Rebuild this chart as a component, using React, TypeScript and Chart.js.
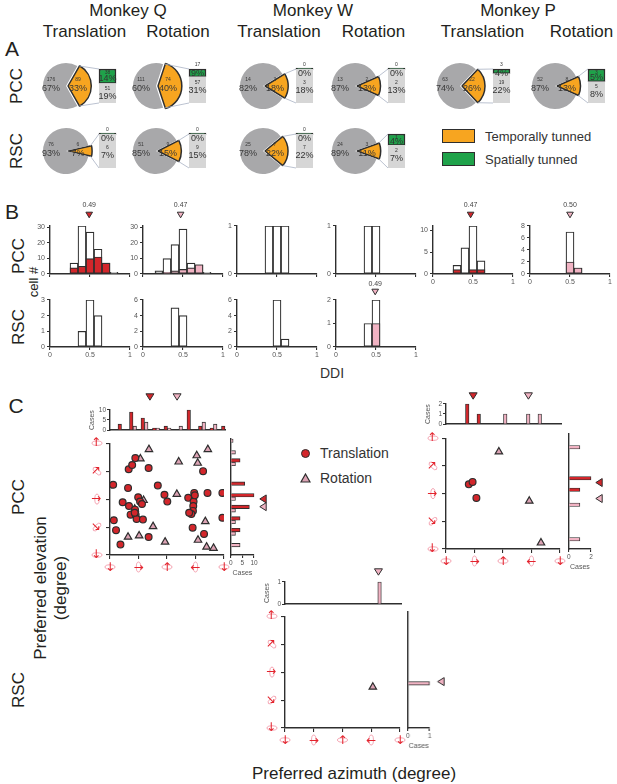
import React, { useEffect, useRef } from 'react';
import { Chart, registerables } from 'chart.js';

Chart.register(...registerables);

const FONT = "'Liberation Sans', Arial, Helvetica, sans-serif";
Chart.defaults.font.family = FONT;
Chart.defaults.color = '#444';

// ---------- colours ----------
const ORANGE = '#f7a520';
const PIE_GREY = '#a8a8aa';
const BAR_GREY = '#d6d6d6';
const GREEN = '#1fa24a';
const DARK = '#2e2e2e';
const RED = '#d3262b';
const PINK = '#f1b3c3';
const TRI_PINK = '#dca3b4';
const ICON_RED = '#e3232c';
const LINK = '#a9b3c4';

// ---------- Panel A data ----------
const monkeys = ['Monkey Q', 'Monkey W', 'Monkey P'];
const motions = ['Translation', 'Rotation'];
const pccUntuned = [176, 111, 14, 13, 63, 52];
const pccTemporal = [89, 74, 3, 2, 22, 8];
const pccSpatial = [38, 17, 0, 0, 3, 3];
const pccUntunedPct = [67, 60, 82, 87, 74, 87];
const pccTemporalPct = [33, 40, 18, 13, 26, 13];
const pccSpatialPct = [14, 9, 0, 0, 4, 5];
const pccTemporalOnlyPct = [19, 31, 18, 13, 22, 8];
const rscUntuned = [76, 51, 25, 24];
const rscTemporal = [6, 9, 7, 3];
const rscSpatial = [0, 0, 0, 1];
const rscUntunedPct = [93, 85, 78, 89];
const rscTemporalPct = [7, 15, 22, 11];
const rscSpatialPct = [0, 0, 0, 4];
const rscTemporalOnlyPct = [7, 15, 22, 7];

// ---------- Panel B data (DDI histograms) ----------
const ddiTicks = [0, 0.5, 1];
const qtPccBins = [0.3, 0.4, 0.5, 0.6, 0.7, 0.8];
const qtPccAll = [7, 31, 27, 16, 7, 1];
const qtPccSpatial = [4, 5, 10, 11, 7, 0];
const qrPccBins = [0.2, 0.3, 0.4, 0.5, 0.6, 0.7, 0.8];
const qrPccAll = [2, 10, 19, 29, 7, 6, 1];
const qrPccSpatial = [0, 1, 2, 3, 4, 6, 0];
const wtPccBins = [0.4, 0.5, 0.6];
const wtPccAll = [1, 1, 1];
const wrPccBins = [0.4, 0.5];
const wrPccAll = [1, 1];
const ptPccBins = [0.3, 0.4, 0.5, 0.6];
const ptPccAll = [2, 6, 11, 3];
const ptPccSpatial = [1, 0, 1, 1];
const prPccBins = [0.5, 0.6];
const prPccAll = [7, 1];
const prPccSpatial = [2, 1];
const qtRscBins = [0.4, 0.5, 0.6];
const qtRscAll = [1, 3, 2];
const qrRscBins = [0.4, 0.5];
const qrRscAll = [5, 4];
const wtRscBins = [0.5, 0.6];
const wtRscAll = [6, 1];
const wrRscBins = [0.4, 0.5];
const wrRscAll = [1, 2];
const wrRscSpatial = [0, 1];
const yTicks30 = [0, 10, 20, 30];
const yTicks1 = [0, 1];
const yTicks10 = [0, 5, 10];
const yTicks8 = [0, 2, 4, 6, 8];
const yTicks3 = [0, 1, 2, 3];
const yTicks6 = [0, 2, 4, 6];
const yTicks2 = [0, 1, 2];

// ---------- Panel C data ----------
const azimuthTicks = [0, 90, 180, 270, 360];
const azimuthIcons = ['↓', '→', '↑', '←', '↓'];
const elevationTicks = [-90, -45, 0, 45, 90];
const elevationIcons = ['↓', '↘', '→', '↗', '↑'];
const azBins = [36, 72, 108, 144, 180, 216, 252, 288, 324, 360];
const elBins = [-72, -54, -36, -18, 0, 18, 36, 54, 72, 90];
// PCC monkey Q
const qTransAz = [10, 12, 19, 33, 40, 57, 60, 59, 70, 80, 65, 79, 81, 84, 89, 95, 101, 104, 122, 122, 151, 172, 181, 247, 266, 264, 263, 262, 257, 250, 261, 297, 294, 308, 355, 355, 268, 78];
const qTransEl = [23, -34, -50, -73, -5, 18, -11, 48, 55, 66, -25, -17, -25, -32, 3, -4, -8, -33, 50, -61, 22, 7, -4, 2, 10, -4, -11, -19, -24, -22, -46, -56, 45, 10, 10, -30, 6, -22];
const qRotAz = [123, 96, 217, 274, 277, 309, 106, 78, 211, 136, 57, 92, 174, 278, 301, 305, 327];
const qRotEl = [80, 65, 60, 70, 58, 80, -2, -16, 8, -44, -61, -59, -69, -66, -36, -77, -79];
const qTransAzHist = [3, 9, 6, 1, 2, 0, 10, 2, 1, 2];
const qRotAzHist = [0, 2, 4, 1, 1, 2, 0, 4, 3, 0];
const qTransElHist = [0, 4, 4, 8, 10, 6, 0, 4, 0, 0];
const qRotElHist = [4, 2, 2, 2, 2, 0, 0, 2, 2, 1];
const qMeanAz = [125, 210];
const qMeanEl = [-3, -15];
// PCC monkey P
const pTransAz = [72, 84, 96];
const pTransEl = [15, 19, -7];
const pRotAz = [167, 263, 300];
const pRotEl = [68, -12, -80];
const pTransAzHist = [0, 2, 1, 0, 0, 0, 0, 0, 0, 0];
const pRotAzHist = [0, 0, 0, 0, 1, 0, 1, 1, 0, 0];
const pTransElHist = [0, 0, 0, 0, 1, 2, 0, 0, 0, 0];
const pRotElHist = [1, 0, 0, 1, 0, 0, 0, 0, 1, 0];
const pMeanAz = [85, 258];
const pMeanEl = [14, -11];
// RSC monkey W
const wTransAz: number[] = [];
const wTransEl: number[] = [];
const wRotAz = [275];
const wRotEl = [-24];
const wTransAzHist = [0, 0, 0, 0, 0, 0, 0, 0, 0, 0];
const wRotAzHist = [0, 0, 0, 0, 0, 0, 0, 1, 0, 0];
const wTransElHist = [0, 0, 0, 0, 0, 0, 0, 0, 0, 0];
const wRotElHist = [0, 0, 0, 1, 0, 0, 0, 0, 0, 0];
const wMeanAz = [null, 290];
const wMeanEl = [null, -18];
const casesTicks10 = [0, 5, 10];
const casesTicks2 = [0, 1, 2];
const casesTicks2b = [0, 2];
const casesTicks1 = [0, 1];

// ---------- generic canvas ----------
type Box = { left: number; top: number; width: number; height: number };
function ChartCanvas({ box, make }: { box: Box; make: () => any }) {
  const ref = useRef<HTMLCanvasElement | null>(null);
  useEffect(() => {
    const chart = new Chart(ref.current as HTMLCanvasElement, make());
    return () => chart.destroy();
  }, []);
  return (
    <canvas
      ref={ref}
      width={box.width}
      height={box.height}
      style={{ position: 'absolute', left: box.left, top: box.top, width: box.width, height: box.height }}
    />
  );
}

const noPlugins = { legend: { display: false }, tooltip: { enabled: false } };
const setTicks = (vals: number[]) => (s: any) => {
  s.ticks = vals.map((v) => ({ value: v }));
};

// ---------- Panel A ----------
const PIE_R = 23;
const PIE_HALF = 28;
const BAR_DX = 33;
const BAR_W = 17;
const BAR_H = 34;
const PIE_OFFSET = 8;
const PIE_CANVAS_W = PIE_HALF + BAR_DX + 2;

function pieConfig(untuned: number, temporal: number, uPct: number, tPct: number) {
  const frac = temporal / (untuned + temporal);
  const decor = {
    id: 'pieDecor',
    afterDraw(chart: any) {
      const ctx = chart.ctx;
      const arc = chart.getDatasetMeta(0).data[0];
      const { x, y, startAngle, endAngle, outerRadius } = arc.getProps(['x', 'y', 'startAngle', 'endAngle', 'outerRadius'], true);
      const mid = (startAngle + endAngle) / 2;
      const ox = x + (Math.cos(mid) * PIE_OFFSET) / 4;
      const oy = y + (Math.sin(mid) * PIE_OFFSET) / 4;
      ctx.save();
      ctx.strokeStyle = LINK;
      ctx.lineWidth = 0.8;
      ctx.beginPath();
      ctx.moveTo(ox + Math.cos(startAngle) * outerRadius, oy + Math.sin(startAngle) * outerRadius);
      ctx.lineTo(x + BAR_DX, y - BAR_H / 2);
      ctx.moveTo(ox + Math.cos(endAngle) * outerRadius, oy + Math.sin(endAngle) * outerRadius);
      ctx.lineTo(x + BAR_DX, y + BAR_H / 2);
      ctx.stroke();
      ctx.textAlign = 'center';
      ctx.textBaseline = 'middle';
      ctx.fillStyle = '#383838';
      ctx.font = `5px ${FONT}`;
      ctx.fillText(String(untuned), x - 15, y - 6);
      ctx.fillText(String(temporal), x + 12, y - 6);
      ctx.font = `9px ${FONT}`;
      ctx.fillText(`${uPct}%`, x - 15, y + 3);
      ctx.fillText(`${tPct}%`, x + 12, y + 3);
      ctx.restore();
    },
  };
  return {
    type: 'pie',
    data: {
      labels: ['Temporally tuned', 'Not tuned'],
      datasets: [
        {
          data: [temporal, untuned],
          backgroundColor: [ORANGE, PIE_GREY],
          borderColor: [DARK, '#ffffff'],
          borderWidth: [1.5, 0],
          offset: [PIE_OFFSET, 0],
        },
      ],
    },
    options: {
      animation: false,
      responsive: false,
      events: [],
      rotation: 90 - frac * 180,
      radius: PIE_R,
      layout: { padding: { left: 0, top: 0, right: PIE_CANVAS_W - 2 * PIE_HALF, bottom: 0 } },
      plugins: noPlugins,
    },
    plugins: [decor],
  };
}

function pieBarConfig(temporal: number, spatial: number, sPct: number, oPct: number) {
  const labels = {
    id: 'barLabels',
    afterDatasetsDraw(chart: any) {
      const ctx = chart.ctx;
      const top = chart.chartArea.top;
      const green = chart.getDatasetMeta(1).data[0];
      if (!green) return;
      const gTop = Math.min(green.y, green.base);
      const gBot = Math.max(green.y, green.base);
      const cx = green.x;
      ctx.save();
      ctx.textAlign = 'center';
      ctx.textBaseline = 'middle';
      ctx.fillStyle = '#333';
      if (spatial > 0 && gBot - gTop >= 10) {
        ctx.font = `5px ${FONT}`;
        ctx.fillText(String(spatial), cx, gTop + 3.5);
        ctx.font = `9px ${FONT}`;
        ctx.fillText(`${sPct}%`, cx, (gTop + gBot) / 2 + 2);
      } else {
        ctx.font = `5px ${FONT}`;
        ctx.fillText(String(spatial), cx, top - 4.5);
        ctx.font = `9px ${FONT}`;
        ctx.fillText(`${sPct}%`, cx, top + 4.5);
      }
      const greyTop = spatial > 0 ? gBot : top;
      const c1 = Math.max(greyTop + 5, top + 14);
      ctx.font = `5px ${FONT}`;
      ctx.fillText(String(temporal - spatial), cx, c1);
      ctx.font = `9px ${FONT}`;
      ctx.fillText(`${oPct}%`, cx, c1 + 8);
      ctx.restore();
    },
  };
  return {
    type: 'bar',
    data: {
      labels: [''],
      datasets: [
        { label: 'Temporal only', data: [temporal - spatial], backgroundColor: BAR_GREY, borderWidth: 0, stack: 's' },
        {
          label: 'Spatially tuned',
          data: [spatial],
          backgroundColor: GREEN,
          borderColor: DARK,
          borderWidth: 1.5,
          borderSkipped: false,
          minBarLength: 2,
          stack: 's',
          clip: false,
        },
      ],
    },
    options: {
      animation: false,
      responsive: false,
      events: [],
      layout: { padding: { left: 2, top: 10, right: 12, bottom: 3 } },
      datasets: { bar: { barPercentage: 1, categoryPercentage: 1 } },
      scales: {
        x: { display: false, stacked: true },
        y: { display: false, stacked: true, min: 0, max: temporal },
      },
      plugins: noPlugins,
    },
    plugins: [labels],
  };
}

// ---------- Panel B ----------
const histAxisX = [50, 143, 237, 336, 433, 530];
const HIST_W = 80;
const PCC_TOP = 226;
const PCC_BOT = 274;
const RSC_TOP = 300;
const RSC_BOT = 347;

type HistSpec = {
  bins: number[];
  all: number[];
  sub?: number[];
  color: string;
  yMax: number;
  yTicks: number[];
  showX: boolean;
  median?: number;
};

function axisStyle(tickLen: number) {
  return {
    grid: { display: true, drawOnChartArea: false, drawTicks: true, tickLength: tickLen, color: DARK, lineWidth: 1.1, offset: false },
    border: { display: true, color: DARK, width: 1.4 },
  };
}

function histConfig(h: HistSpec, markDy: number, textDy: number) {
  const pts = (arr: number[] | undefined) =>
    h.bins.map((b, i) => ({ x: b, y: arr ? arr[i] : 0 })).filter((p) => p.y > 0);
  const marker = {
    id: 'ddiMedian',
    afterDraw(chart: any) {
      if (h.median === undefined) return;
      const { ctx, chartArea } = chart;
      const x = chart.scales.x.getPixelForValue(h.median);
      const ty = chartArea.top + markDy;
      ctx.save();
      ctx.beginPath();
      ctx.moveTo(x - 3.3, ty - 2.8);
      ctx.lineTo(x + 3.3, ty - 2.8);
      ctx.lineTo(x, ty + 2.8);
      ctx.closePath();
      ctx.fillStyle = h.color;
      ctx.fill();
      ctx.strokeStyle = DARK;
      ctx.lineWidth = 1;
      ctx.stroke();
      ctx.fillStyle = '#444';
      ctx.font = `7px ${FONT}`;
      ctx.textAlign = 'center';
      ctx.textBaseline = 'middle';
      ctx.fillText(h.median.toFixed(2), x, chartArea.top + textDy);
      ctx.restore();
    },
  };
  return {
    type: 'bar',
    data: {
      datasets: [
        { label: 'Spatially tuned', data: pts(h.sub), backgroundColor: h.color, borderColor: DARK, borderWidth: 1.2, borderSkipped: false, grouped: false },
        { label: 'All', data: pts(h.all), backgroundColor: '#ffffff', borderColor: DARK, borderWidth: 1.2, borderSkipped: false, grouped: false },
      ],
    },
    options: {
      animation: false,
      responsive: false,
      events: [],
      layout: { padding: { left: 0, top: 26, right: 8, bottom: 0 } },
      datasets: { bar: { barPercentage: 1, categoryPercentage: 1 } },
      plugins: noPlugins,
      scales: {
        x: {
          type: 'linear',
          min: 0,
          max: 1,
          offset: false,
          afterBuildTicks: setTicks(ddiTicks),
          afterFit: (s: any) => {
            s.height = 14;
          },
          ...axisStyle(3),
          ticks: { display: h.showX, autoSkip: false, maxRotation: 0, padding: 1, color: '#555', font: { size: 7 }, callback: (v: any) => String(v) },
        },
        y: {
          type: 'linear',
          min: 0,
          max: h.yMax,
          afterBuildTicks: setTicks(h.yTicks),
          afterFit: (s: any) => {
            s.width = 24;
          },
          ...axisStyle(3),
          ticks: { autoSkip: false, padding: 2, color: '#555', font: { size: 7 } },
        },
      },
    },
    plugins: [marker],
  };
}

const pccHists: HistSpec[] = [
  { bins: qtPccBins, all: qtPccAll, sub: qtPccSpatial, color: RED, yMax: 31, yTicks: yTicks30, showX: false, median: 0.49 },
  { bins: qrPccBins, all: qrPccAll, sub: qrPccSpatial, color: PINK, yMax: 31, yTicks: yTicks30, showX: false, median: 0.47 },
  { bins: wtPccBins, all: wtPccAll, color: RED, yMax: 1, yTicks: yTicks1, showX: false },
  { bins: wrPccBins, all: wrPccAll, color: PINK, yMax: 1, yTicks: yTicks1, showX: false },
  { bins: ptPccBins, all: ptPccAll, sub: ptPccSpatial, color: RED, yMax: 11, yTicks: yTicks10, showX: true, median: 0.47 },
  { bins: prPccBins, all: prPccAll, sub: prPccSpatial, color: PINK, yMax: 8, yTicks: yTicks8, showX: true, median: 0.5 },
];
const rscHists: HistSpec[] = [
  { bins: qtRscBins, all: qtRscAll, color: RED, yMax: 3, yTicks: yTicks3, showX: true },
  { bins: qrRscBins, all: qrRscAll, color: PINK, yMax: 6, yTicks: yTicks6, showX: true },
  { bins: wtRscBins, all: wtRscAll, color: RED, yMax: 6, yTicks: yTicks6, showX: true },
  { bins: wrRscBins, all: wrRscAll, sub: wrRscSpatial, color: PINK, yMax: 2, yTicks: yTicks2, showX: true, median: 0.49 },
];

// ---------- Panel C ----------
type Rect = { l: number; t: number; r: number; b: number };

const iconRings = {
  id: 'iconRings',
  beforeDraw(chart: any) {
    const { ctx, chartArea, scales } = chart;
    ctx.save();
    ctx.strokeStyle = '#f39aa9';
    ctx.lineWidth = 0.9;
    azimuthTicks.forEach((v, i) => {
      const x = scales.x.getPixelForValue(v);
      const y = chartArea.bottom + 12;
      const vert = azimuthIcons[i] === '→' || azimuthIcons[i] === '←';
      ctx.beginPath();
      ctx.ellipse(x, y, vert ? 2.2 : 5, vert ? 5 : 2.2, 0, 0, Math.PI * 2);
      ctx.stroke();
    });
    elevationTicks.forEach((v, i) => {
      const y = scales.y.getPixelForValue(v);
      const x = chartArea.left - 13;
      const ic = elevationIcons[i];
      let rot = 0;
      let rx = 5;
      let ry = 2.2;
      if (ic === '→') {
        rx = 2.2;
        ry = 5;
      } else if (ic === '↗') rot = Math.PI / 4;
      else if (ic === '↘') rot = -Math.PI / 4;
      ctx.beginPath();
      ctx.ellipse(x, y, rx, ry, rot, 0, Math.PI * 2);
      ctx.stroke();
    });
    ctx.restore();
  },
};

function scatterConfig(tAz: number[], tEl: number[], rAz: number[], rEl: number[]) {
  return {
    type: 'scatter',
    data: {
      datasets: [
        {
          label: 'Translation',
          data: tAz.map((a, i) => ({ x: a, y: tEl[i] })),
          pointStyle: 'circle',
          pointRadius: 3.4,
          backgroundColor: RED,
          borderColor: DARK,
          borderWidth: 1.2,
        },
        {
          label: 'Rotation',
          data: rAz.map((a, i) => ({ x: a, y: rEl[i] })),
          pointStyle: 'triangle',
          pointRadius: 4.3,
          backgroundColor: TRI_PINK,
          borderColor: DARK,
          borderWidth: 1.2,
        },
      ],
    },
    options: {
      animation: false,
      responsive: false,
      events: [],
      layout: { padding: { left: 0, top: 8, right: 6, bottom: 0 } },
      plugins: noPlugins,
      scales: {
        x: {
          type: 'linear',
          min: 0,
          max: 360,
          afterBuildTicks: setTicks(azimuthTicks),
          afterFit: (s: any) => {
            s.height = 22;
          },
          ...axisStyle(4),
          ticks: {
            autoSkip: false,
            maxRotation: 0,
            padding: 2,
            color: ICON_RED,
            font: { size: 12, family: 'DejaVu Sans' },
            callback: (_v: any, i: number) => azimuthIcons[i],
          },
        },
        y: {
          type: 'linear',
          min: -90,
          max: 90,
          afterBuildTicks: setTicks(elevationTicks),
          afterFit: (s: any) => {
            s.width = 26;
          },
          ...axisStyle(4),
          ticks: {
            autoSkip: false,
            padding: 5,
            color: ICON_RED,
            font: { size: 12, family: 'DejaVu Sans' },
            callback: (_v: any, i: number) => elevationIcons[i],
          },
        },
      },
    },
    plugins: [iconRings],
  };
}

function triangle(ctx: any, x: number, y: number, dir: 'down' | 'left', fill: string) {
  ctx.beginPath();
  if (dir === 'down') {
    ctx.moveTo(x - 4, y - 3.2);
    ctx.lineTo(x + 4, y - 3.2);
    ctx.lineTo(x, y + 3.2);
  } else {
    ctx.moveTo(x + 3.2, y - 4);
    ctx.lineTo(x + 3.2, y + 4);
    ctx.lineTo(x - 3.2, y);
  }
  ctx.closePath();
  ctx.fillStyle = fill;
  ctx.fill();
  ctx.strokeStyle = DARK;
  ctx.lineWidth = 1;
  ctx.stroke();
}

function topHistConfig(red: number[], pink: number[], yMax: number, yTicks: number[], means: (number | null)[], markDy: number) {
  const pts = (arr: number[]) => azBins.map((b, i) => ({ x: b, y: arr[i] })).filter((p) => p.y > 0);
  const marks = {
    id: 'meanMarks',
    afterDraw(chart: any) {
      const { ctx, chartArea } = chart;
      ctx.save();
      [RED, PINK].forEach((c, k) => {
        const m = means[k];
        if (m === null || m === undefined) return;
        triangle(ctx, chart.scales.x.getPixelForValue(m), chartArea.top + markDy, 'down', c);
      });
      ctx.restore();
    },
  };
  return {
    type: 'bar',
    data: {
      datasets: [
        { label: 'Translation', data: pts(red), backgroundColor: RED, borderColor: DARK, borderWidth: 0.9, barThickness: 3.5, clip: false },
        { label: 'Rotation', data: pts(pink), backgroundColor: PINK, borderColor: DARK, borderWidth: 0.9, barThickness: 3.5, clip: false },
      ],
    },
    options: {
      animation: false,
      responsive: false,
      events: [],
      layout: { padding: { left: 0, top: 22, right: 6, bottom: 0 } },
      plugins: noPlugins,
      scales: {
        x: {
          type: 'linear',
          min: 0,
          max: 360,
          offset: false,
          afterFit: (s: any) => {
            s.height = 2;
          },
          grid: { display: false },
          border: { display: true, color: DARK, width: 1.4 },
          ticks: { display: false },
        },
        y: {
          type: 'linear',
          min: 0,
          max: yMax,
          afterBuildTicks: setTicks(yTicks),
          afterFit: (s: any) => {
            s.width = 22;
          },
          ...axisStyle(3),
          ticks: { autoSkip: false, padding: 1, color: '#555', font: { size: 6.5 } },
          title: { display: true, text: 'Cases', color: '#555', font: { size: 7 }, padding: 0 },
        },
      },
    },
    plugins: [marks],
  };
}

function rightHistConfig(red: number[], pink: number[], xMax: number, xTicks: number[], means: (number | null)[], markDx: number) {
  const pts = (arr: number[]) => elBins.map((b, i) => ({ y: b, x: arr[i] })).filter((p) => p.x > 0);
  const marks = {
    id: 'meanMarksR',
    afterDraw(chart: any) {
      const { ctx, chartArea } = chart;
      ctx.save();
      [RED, PINK].forEach((c, k) => {
        const m = means[k];
        if (m === null || m === undefined) return;
        triangle(ctx, chartArea.right + markDx, chart.scales.y.getPixelForValue(m), 'left', c);
      });
      ctx.restore();
    },
  };
  return {
    type: 'bar',
    data: {
      datasets: [
        { label: 'Translation', data: pts(red), backgroundColor: RED, borderColor: DARK, borderWidth: 0.9, barThickness: 3.5, clip: false },
        { label: 'Rotation', data: pts(pink), backgroundColor: PINK, borderColor: DARK, borderWidth: 0.9, barThickness: 3.5, clip: false },
      ],
    },
    options: {
      indexAxis: 'y',
      animation: false,
      responsive: false,
      events: [],
      layout: { padding: { left: 2, top: 4, right: 18, bottom: 0 } },
      plugins: noPlugins,
      scales: {
        y: {
          type: 'linear',
          min: -90,
          max: 90,
          offset: false,
          afterFit: (s: any) => {
            s.width = 0;
          },
          grid: { display: false },
          border: { display: true, color: DARK, width: 1.4 },
          ticks: { display: false },
        },
        x: {
          type: 'linear',
          min: 0,
          max: xMax,
          afterBuildTicks: setTicks(xTicks),
          afterFit: (s: any) => {
            s.height = 22;
          },
          ...axisStyle(3),
          ticks: { autoSkip: false, maxRotation: 0, padding: 1, color: '#555', font: { size: 6.5 } },
          title: { display: true, text: 'Cases', color: '#555', font: { size: 7 }, padding: 0 },
        },
      },
    },
    plugins: [marks],
  };
}

type Joint = {
  plot: Rect;
  top: { t: number; b: number; yMax: number; ticks: number[]; markDy: number };
  right: { l: number; r: number; xMax: number; ticks: number[]; markDx: number };
  tAz: number[];
  tEl: number[];
  rAz: number[];
  rEl: number[];
  tAzH: number[];
  rAzH: number[];
  tElH: number[];
  rElH: number[];
  meanAz: (number | null)[];
  meanEl: (number | null)[];
};

const joints: Joint[] = [
  {
    plot: { l: 110, t: 439, r: 225, b: 555 },
    top: { t: 410, b: 433, yMax: 10, ticks: casesTicks10, markDy: -13 },
    right: { l: 230, r: 254, xMax: 10, ticks: casesTicks10, markDx: 9 },
    tAz: qTransAz, tEl: qTransEl, rAz: qRotAz, rEl: qRotEl,
    tAzH: qTransAzHist, rAzH: qRotAzHist, tElH: qTransElHist, rElH: qRotElHist,
    meanAz: qMeanAz, meanEl: qMeanEl,
  },
  {
    plot: { l: 446, t: 434, r: 561, b: 549 },
    top: { t: 404, b: 427, yMax: 2, ticks: casesTicks2, markDy: -8 },
    right: { l: 568, r: 591, xMax: 2, ticks: casesTicks2b, markDx: 8 },
    tAz: pTransAz, tEl: pTransEl, rAz: pRotAz, rEl: pRotEl,
    tAzH: pTransAzHist, rAzH: pRotAzHist, tElH: pTransElHist, rElH: pRotElHist,
    meanAz: pMeanAz, meanEl: pMeanEl,
  },
  {
    plot: { l: 285, t: 612, r: 401, b: 728 },
    top: { t: 582, b: 607, yMax: 1, ticks: casesTicks1, markDy: -10 },
    right: { l: 407, r: 429.5, xMax: 1, ticks: casesTicks1, markDx: 11 },
    tAz: wTransAz, tEl: wTransEl, rAz: wRotAz, rEl: wRotEl,
    tAzH: wTransAzHist, rAzH: wRotAzHist, tElH: wTransElHist, rElH: wRotElHist,
    meanAz: wMeanAz, meanEl: wMeanEl,
  },
];

// ---------- text helper ----------
function T({ x, y, s, size, rot, left, color }: { x: number; y: number; s: string; size: number; rot?: boolean; left?: boolean; color?: string }) {
  const tf = (left ? 'translate(0,-50%)' : 'translate(-50%,-50%)') + (rot ? ' rotate(-90deg)' : '');
  return (
    <div style={{ position: 'absolute', left: x, top: y, transform: tf, fontSize: size, lineHeight: 1, whiteSpace: 'nowrap', color: color || '#231f20' }}>
      {s}
    </div>
  );
}

const pieCx = [66, 156, 263, 355, 460, 555];
const PCC_CY = 86;
const RSC_CY = 151;

export default function App() {
  const items: any[] = [];
  // Panel A pies
  pieCx.forEach((cx, i) => {
    items.push(
      <ChartCanvas key={`pp${i}`} box={{ left: cx - PIE_HALF, top: PCC_CY - PIE_HALF, width: PIE_CANVAS_W, height: 2 * PIE_HALF }} make={() => pieConfig(pccUntuned[i], pccTemporal[i], pccUntunedPct[i], pccTemporalPct[i])} />,
      <ChartCanvas key={`pb${i}`} box={{ left: cx + BAR_DX - 2, top: PCC_CY - BAR_H / 2 - 10, width: 2 + BAR_W + 12, height: 10 + BAR_H + 3 }} make={() => pieBarConfig(pccTemporal[i], pccSpatial[i], pccSpatialPct[i], pccTemporalOnlyPct[i])} />
    );
  });
  rscUntuned.forEach((_u, i) => {
    const cx = pieCx[i];
    items.push(
      <ChartCanvas key={`rp${i}`} box={{ left: cx - PIE_HALF, top: RSC_CY - PIE_HALF, width: PIE_CANVAS_W, height: 2 * PIE_HALF }} make={() => pieConfig(rscUntuned[i], rscTemporal[i], rscUntunedPct[i], rscTemporalPct[i])} />,
      <ChartCanvas key={`rb${i}`} box={{ left: cx + BAR_DX - 2, top: RSC_CY - BAR_H / 2 - 10, width: 2 + BAR_W + 12, height: 10 + BAR_H + 3 }} make={() => pieBarConfig(rscTemporal[i], rscSpatial[i], rscSpatialPct[i], rscTemporalOnlyPct[i])} />
    );
  });
  // Panel B histograms
  pccHists.forEach((h, i) => {
    items.push(
      <ChartCanvas key={`hp${i}`} box={{ left: histAxisX[i] - 24, top: PCC_TOP - 26, width: 24 + HIST_W + 8, height: 26 + (PCC_BOT - PCC_TOP) + 14 }} make={() => histConfig(h, -11, -21)} />
    );
  });
  rscHists.forEach((h, i) => {
    items.push(
      <ChartCanvas key={`hr${i}`} box={{ left: histAxisX[i] - 24, top: RSC_TOP - 26, width: 24 + HIST_W + 8, height: 26 + (RSC_BOT - RSC_TOP) + 14 }} make={() => histConfig(h, -8, -16)} />
    );
  });
  // Panel C
  joints.forEach((j, i) => {
    const p = j.plot;
    items.push(
      <ChartCanvas key={`sc${i}`} box={{ left: p.l - 26, top: p.t - 8, width: 26 + (p.r - p.l) + 6, height: 8 + (p.b - p.t) + 22 }} make={() => scatterConfig(j.tAz, j.tEl, j.rAz, j.rEl)} />,
      <ChartCanvas key={`th${i}`} box={{ left: p.l - 22, top: j.top.t - 22, width: 22 + (p.r - p.l) + 6, height: 22 + (j.top.b - j.top.t) + 2 }} make={() => topHistConfig(j.tAzH, j.rAzH, j.top.yMax, j.top.ticks, j.meanAz, j.top.markDy)} />,
      <ChartCanvas key={`rh${i}`} box={{ left: j.right.l - 2, top: p.t - 4, width: 2 + (j.right.r - j.right.l) + 18, height: 4 + (p.b - p.t) + 22 }} make={() => rightHistConfig(j.tElH, j.rElH, j.right.xMax, j.right.ticks, j.meanEl, j.right.markDx)} />
    );
  });

  return (
    <div style={{ position: 'absolute', left: 0, top: 0, width: 617, height: 784, background: '#ffffff', fontFamily: FONT, overflow: 'hidden' }}>
      <T x={128} y={9.5} s={monkeys[0]} size={17} />
      <T x={313} y={9.5} s={monkeys[1]} size={17} />
      <T x={518} y={9.5} s={monkeys[2]} size={17} />
      <T x={84.5} y={31} s={motions[0]} size={17} />
      <T x={178} y={31} s={motions[1]} size={17} />
      <T x={279} y={31} s={motions[0]} size={17} />
      <T x={373.5} y={31} s={motions[1]} size={17} />
      <T x={482.5} y={31} s={motions[0]} size={17} />
      <T x={581.5} y={31} s={motions[1]} size={17} />
      <T x={12} y={48} s="A" size={21} />
      <T x={16} y={86} s="PCC" size={17} rot />
      <T x={16} y={151} s="RSC" size={17} rot />
      <div style={{ position: 'absolute', left: 442, top: 129, width: 33, height: 14, background: ORANGE, border: `1.5px solid ${DARK}`, boxSizing: 'border-box' }} />
      <div style={{ position: 'absolute', left: 442, top: 152, width: 33, height: 14, background: GREEN, border: `1.5px solid ${DARK}`, boxSizing: 'border-box' }} />
      <T x={485} y={136} s="Temporally tunned" size={13} left color="#333" />
      <T x={485} y={159} s="Spatially tunned" size={13} left color="#333" />
      <T x={12} y={211} s="B" size={21} />
      <T x={18} y={256} s="PCC" size={17} rot />
      <T x={33} y={282} s="cell #" size={13} rot />
      <T x={18} y={327} s="RSC" size={17} rot />
      <T x={332} y={373} s="DDI" size={14} color="#333" />
      <T x={16} y={405} s="C" size={21} />
      <T x={18} y={497} s="PCC" size={17} rot />
      <T x={40} y={588} s="Preferred elevation" size={17} rot />
      <T x={60} y={588} s="(degree)" size={17} rot />
      <T x={18} y={690} s="RSC" size={17} rot />
      <T x={354} y={773} s="Preferred azimuth (degree)" size={17} />
      <div style={{ position: 'absolute', left: 300.5, top: 448.5, width: 9, height: 9, borderRadius: '50%', background: RED, border: `1.2px solid ${DARK}`, boxSizing: 'border-box' }} />
      <svg style={{ position: 'absolute', left: 300, top: 473 }} width={11} height={10}>
        <polygon points="5.5,1 10,9 1,9" fill={TRI_PINK} stroke={DARK} strokeWidth={1.2} />
      </svg>
      <T x={320} y={453} s="Translation" size={14} left color="#333" />
      <T x={320} y={478} s="Rotation" size={14} left color="#333" />
      {items}
    </div>
  );
}
